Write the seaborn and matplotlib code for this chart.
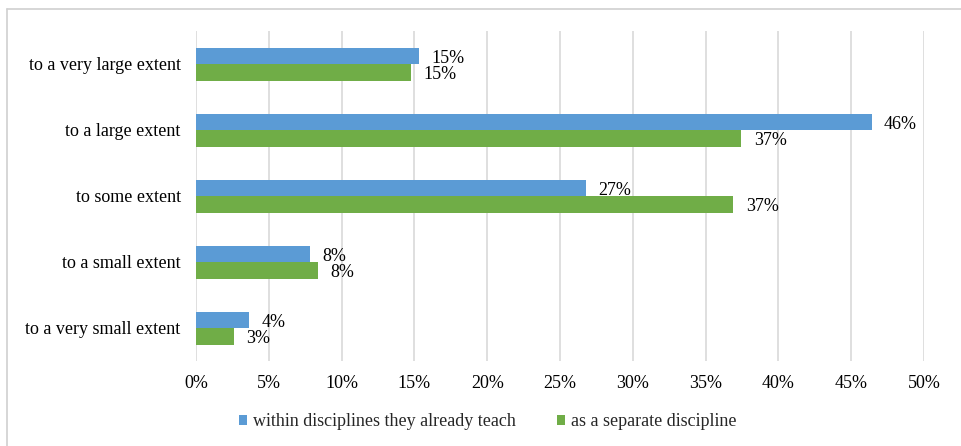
import matplotlib
matplotlib.use("Agg")
import matplotlib.pyplot as plt
import seaborn as sns
import pandas as pd
from matplotlib.patches import Patch
from matplotlib.lines import Line2D

categories = ["to a very large extent", "to a large extent", "to some extent",
              "to a small extent", "to a very small extent"]
series_names = ["within disciplines they already teach", "as a separate discipline"]
within_vals = [15.3, 46.4, 26.8, 7.85, 3.64]
separate_vals = [14.75, 37.45, 36.9, 8.4, 2.6]
tick_vals = [0, 5, 10, 15, 20, 25, 30, 35, 40, 45, 50]
tick_labels = [f"{v}%" for v in tick_vals]
colors = ["#5B9BD5", "#70AD47"]

df = pd.DataFrame({
    "category": categories * 2,
    "series": [series_names[0]] * 5 + [series_names[1]] * 5,
    "value": within_vals + separate_vals,
})

sns.set_theme(style="white")
plt.rcParams["font.family"] = ["Liberation Serif", "DejaVu Serif"]
FS = 13

fig = plt.figure(figsize=(9.62, 4.46), dpi=100)
ax = fig.add_axes([196/962, 1 - 361/446, (924-196)/962, (361-31)/446])

sns.barplot(data=df, x="value", y="category", hue="series", order=categories,
            hue_order=series_names, palette=colors, orient="h", width=0.5,
            gap=0, saturation=1, ax=ax, legend=False, edgecolor="none")

ax.set_xlim(0, 50)
ax.set_xticks(tick_vals)
ax.set_xticklabels(tick_labels, fontsize=FS, color="#000000")
ax.tick_params(axis="y", labelsize=FS, colors="#000000", length=0, pad=11)
ax.tick_params(axis="x", length=0, pad=10)
ax.set_xlabel("")
ax.set_ylabel("")
ax.xaxis.grid(True, color="#D9D9D9", linewidth=1.2)
ax.set_axisbelow(True)
for s in ax.spines.values():
    s.set_visible(False)

for cont in ax.containers:
    labels = ax.bar_label(cont, fmt="%.0f%%", padding=9, fontsize=FS, color="#000000")
    for lab in labels:
        x0, y0 = lab.xyann
        lab.xyann = (x0, y0 - 1.8)

handles = [Patch(facecolor=c, edgecolor="none") for c in colors]
fig.legend(handles, series_names, loc="center", bbox_to_anchor=(0.507, 1 - 421.7/446),
           ncol=2, frameon=False, fontsize=FS, handlelength=0.45, handleheight=0.45,
           handletextpad=0.3, columnspacing=2.3)

# outer border (top and left edges visible)
fig.add_artist(Line2D([7/962, 7/962], [0, 1 - 9/446], transform=fig.transFigure,
                      color="#D0D0D0", linewidth=1.2))
fig.add_artist(Line2D([7/962, 1], [1 - 9/446, 1 - 9/446], transform=fig.transFigure,
                      color="#D0D0D0", linewidth=1.2))

fig.savefig("out.png", dpi=100)
